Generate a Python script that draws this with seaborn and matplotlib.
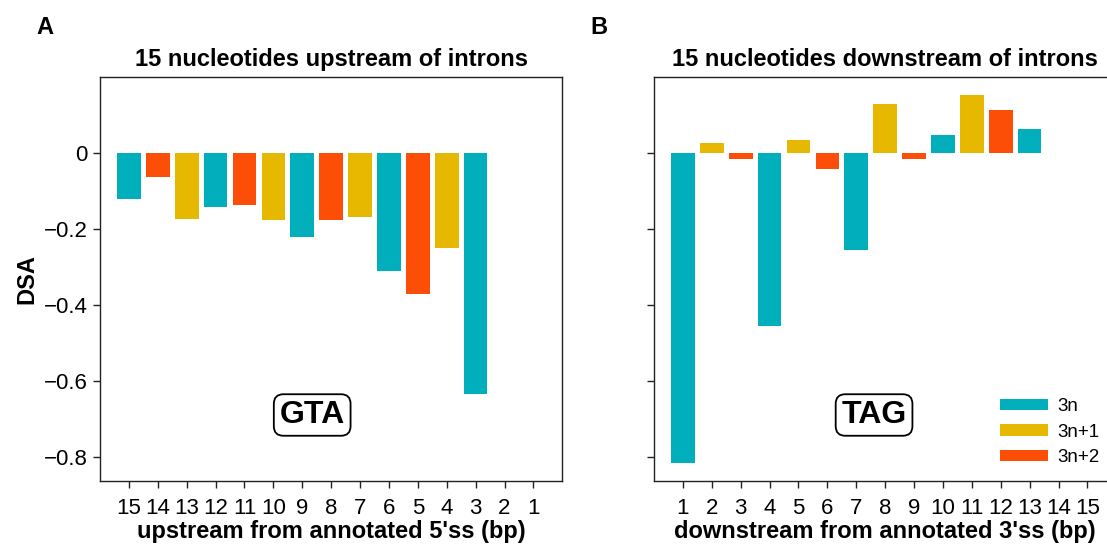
import numpy as np
import pandas as pd
import matplotlib
matplotlib.use("Agg")
import matplotlib.pyplot as plt
import seaborn as sns

# ---------------- data ----------------
up_positions = ["15", "14", "13", "12", "11", "10", "9", "8", "7", "6", "5", "4", "3", "2", "1"]
up_values = [-0.119, -0.062, -0.173, -0.142, -0.137, -0.176, -0.221, -0.176, -0.168,
             -0.310, -0.371, -0.250, -0.634, 0.0, 0.0]
up_frames = ["3n", "3n+2", "3n+1", "3n", "3n+2", "3n+1", "3n", "3n+2", "3n+1",
             "3n", "3n+2", "3n+1", "3n", "3n+2", "3n+1"]

down_positions = ["1", "2", "3", "4", "5", "6", "7", "8", "9", "10", "11", "12", "13", "14", "15"]
down_values = [-0.815, 0.027, -0.014, -0.455, 0.034, -0.042, -0.254, 0.129, -0.015,
               0.048, 0.153, 0.115, 0.063, 0.0, 0.0]
down_frames = ["3n", "3n+1", "3n+2", "3n", "3n+1", "3n+2", "3n", "3n+1", "3n+2",
               "3n", "3n+1", "3n+2", "3n", "3n+1", "3n+2"]

frame_order = ["3n", "3n+1", "3n+2"]
frame_colors = ["#00AFBB", "#E7B800", "#FC4E07"]

yticks = [0, -0.2, -0.4, -0.6, -0.8]
ytick_labels = ["0", "\u22120.2", "\u22120.4", "\u22120.6", "\u22120.8"]

# ---------------- style ----------------
sns.set_style("ticks")
plt.rcParams["font.family"] = ["Liberation Sans", "DejaVu Sans"]
plt.rcParams["text.color"] = "black"
plt.rcParams["axes.labelcolor"] = "black"
plt.rcParams["xtick.color"] = "black"
plt.rcParams["ytick.color"] = "black"

W, H = 1107, 545
fig = plt.figure(figsize=(W / 100, H / 100), dpi=100)

def px_axes(x0, x1, y0, y1):
    return fig.add_axes([x0 / W, 1 - y1 / H, (x1 - x0) / W, (y1 - y0) / H])

ax1 = px_axes(100, 562.3, 77, 481.3)
ax2 = px_axes(654, 1116.3, 77, 481.3)

palette = dict(zip(frame_order, frame_colors))

df_up = pd.DataFrame({"pos": up_positions, "dsa": up_values, "frame": up_frames})
df_down = pd.DataFrame({"pos": down_positions, "dsa": down_values, "frame": down_frames})

sns.barplot(data=df_up, x="pos", y="dsa", hue="frame", order=up_positions,
            hue_order=frame_order, palette=palette, dodge=False, width=0.82,
            saturation=1, linewidth=0, errorbar=None, legend=False, ax=ax1)
sns.barplot(data=df_down, x="pos", y="dsa", hue="frame", order=down_positions,
            hue_order=frame_order, palette=palette, dodge=False, width=0.82,
            saturation=1, linewidth=0, errorbar=None, legend=True, ax=ax2)

for ax in (ax1, ax2):
    ax.set_xlim(-1, 15)
    ax.set_ylim(-0.863, 0.2007)
    ax.set_yticks(yticks)
    for s in ax.spines.values():
        s.set_visible(True)
        s.set_color("#222222")
        s.set_linewidth(1.0)
    ax.tick_params(axis="both", direction="out", length=5, width=1.0,
                   color="#222222", labelsize=16, labelcolor="black")
    ax.tick_params(axis="x", pad=7)
    ax.tick_params(axis="y", pad=4)

ax1.set_yticklabels(ytick_labels)
ax2.set_yticklabels([])

ax1.set_title("15 nucleotides upstream of introns", fontsize=17, fontweight="bold", pad=8)
ax2.set_title("15 nucleotides downstream of introns", fontsize=17, fontweight="bold", pad=8)
ax1.set_xlabel("upstream from annotated 5'ss (bp)", fontsize=17, fontweight="bold", labelpad=1)
ax2.set_xlabel("downstream from annotated 3'ss (bp)", fontsize=17, fontweight="bold", labelpad=1)
ax1.set_ylabel("DSA", fontsize=17, fontweight="bold", labelpad=4)
ax2.set_ylabel("")

box = dict(boxstyle="round,pad=0.18,rounding_size=0.3", fc="white", ec="black", lw=1.3)
ax1.text(0.459, 0.164, "GTA", transform=ax1.transAxes, ha="center", va="center",
         fontsize=23, fontweight="bold", bbox=box)
ax2.text(0.476, 0.164, "TAG", transform=ax2.transAxes, ha="center", va="center",
         fontsize=23, fontweight="bold", bbox=box)

leg = ax2.legend(loc="lower left", bbox_to_anchor=(0.72, 0.005), frameon=False,
                 fontsize=13.5, handlelength=2.55, handleheight=0.55, handletextpad=0.5,
                 labelspacing=0.45, borderpad=0.2, title=None)

fig.text(45 / W, 1 - 27 / H, "A", ha="center", va="center", fontsize=17, fontweight="bold")
fig.text(599 / W, 1 - 27 / H, "B", ha="center", va="center", fontsize=17, fontweight="bold")

fig.savefig("out.png", dpi=100)
